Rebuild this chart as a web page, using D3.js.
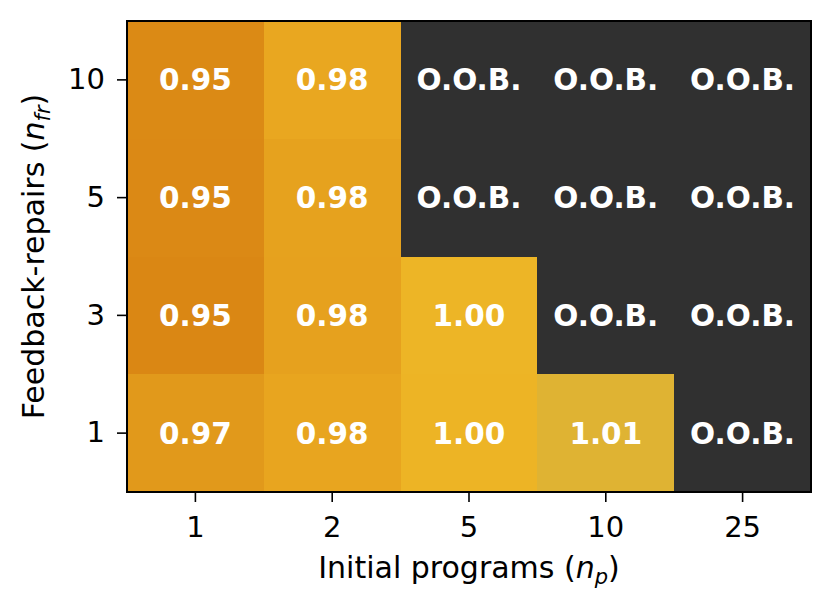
<!DOCTYPE html>
<html>
<head>
<meta charset="utf-8">
<script src="https://cdn.jsdelivr.net/npm/d3@7"></script>
<style>
  body { margin: 0; background: #fff; }
  text { font-family: "DejaVu Sans", sans-serif; }
</style>
</head>
<body>
<div id="chart"></div>
<script>
// initial programs (columns) and feedback-repairs (rows)
const programs = ["1", "2", "5", "10", "25"];
const repairs = ["10", "5", "3", "1"];

// relative cost per cell, null = out of budget
const row10 = [0.951, 0.984, null, null, null];
const row5 = [0.950, 0.978, null, null, null];
const row3 = [0.947, 0.977, 1.003, null, null];
const row1 = [0.968, 0.982, 1.001, 1.010, null];
const values = [row10, row5, row3, row1];

const width = 832, height = 613;
const margin = { top: 21, right: 21, bottom: 121, left: 127 };

const svg = d3.select("#chart").append("svg")
  .attr("width", width)
  .attr("height", height);

const x = d3.scaleBand().domain(programs)
  .range([margin.left, width - margin.right]);
const y = d3.scaleBand().domain(repairs)
  .range([margin.top, height - margin.bottom]);

const color = d3.scaleLinear()
  .domain([0.945, 0.97, 0.985, 1.003, 1.01])
  .range(["#d98513", "#e29b1c", "#eaa820", "#edb526", "#dfb333"])
  .clamp(true);

const cells = [];
repairs.forEach((r, i) => {
  programs.forEach((p, j) => {
    cells.push({ r, p, v: values[i][j] });
  });
});

const fmt = d3.format(".2f");

svg.append("g").selectAll("rect")
  .data(cells)
  .enter()
  .append("rect")
  .attr("x", d => x(d.p))
  .attr("y", d => y(d.r))
  .attr("width", x.bandwidth() + 1)
  .attr("height", y.bandwidth() + 1)
  .attr("shape-rendering", "crispEdges")
  .attr("fill", d => d.v === null ? "#303030" : color(d.v));

svg.append("g").selectAll("text")
  .data(cells)
  .enter()
  .append("text")
  .attr("x", d => x(d.p) + x.bandwidth() / 2)
  .attr("y", d => y(d.r) + y.bandwidth() / 2)
  .attr("dy", "0.36em")
  .attr("text-anchor", "middle")
  .attr("fill", "#fff")
  .attr("font-weight", "bold")
  .attr("font-size", "29.5px")
  .text(d => d.v === null ? "O.O.B." : fmt(d.v));

// axes
const xAxis = svg.append("g")
  .attr("transform", `translate(0,${height - margin.bottom})`)
  .call(d3.axisBottom(x).tickSize(10).tickPadding(14));
const yAxis = svg.append("g")
  .attr("transform", `translate(${margin.left},0)`)
  .call(d3.axisLeft(y).tickSize(10).tickPadding(12));

[xAxis, yAxis].forEach(a => {
  a.select(".domain").remove();
  a.selectAll("line").attr("stroke", "#000").attr("stroke-width", 1.6);
  a.selectAll("text")
    .attr("font-size", "29px")
    .attr("font-family", "DejaVu Sans, sans-serif")
    .attr("fill", "#000");
});

// frame
svg.append("rect")
  .attr("x", margin.left)
  .attr("y", margin.top)
  .attr("width", width - margin.left - margin.right)
  .attr("height", height - margin.top - margin.bottom)
  .attr("fill", "none")
  .attr("stroke", "#000")
  .attr("stroke-width", 2);

// axis labels
const xl = svg.append("text")
  .attr("x", margin.left + (width - margin.left - margin.right) / 2)
  .attr("y", 578)
  .attr("text-anchor", "middle")
  .attr("font-size", "30px");
xl.append("tspan").text("Initial programs (");
xl.append("tspan").attr("font-style", "italic").text("n");
xl.append("tspan").attr("font-style", "italic").attr("font-size", "21px").attr("dy", 6).text("p");
xl.append("tspan").attr("dy", -6).text(")");

const yl = svg.append("text")
  .attr("transform", `translate(44,${margin.top + (height - margin.top - margin.bottom) / 2}) rotate(-90)`)
  .attr("text-anchor", "middle")
  .attr("font-size", "30px");
yl.append("tspan").text("Feedback-repairs (");
yl.append("tspan").attr("font-style", "italic").text("n");
yl.append("tspan").attr("font-style", "italic").attr("font-size", "21px").attr("dy", 6).text("fr");
yl.append("tspan").attr("dy", -6).text(")");
</script>
</body>
</html>
